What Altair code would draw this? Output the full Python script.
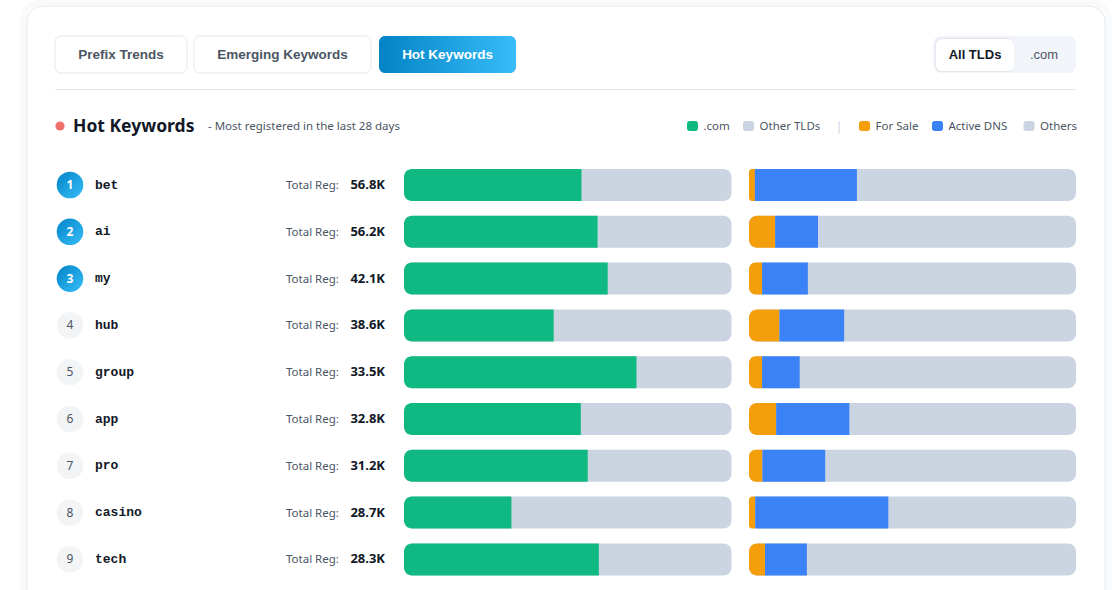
import altair as alt
import pandas as pd

# ---- data -----------------------------------------------------------------
keywords = ["bet", "ai", "my", "hub", "group", "app", "pro", "casino", "tech"]
total_reg_k = [56.8, 56.2, 42.1, 38.6, 33.5, 32.8, 31.2, 28.7, 28.3]
# share of registrations under .com (rest: other TLDs), percent
com_share = [54.2, 59.1, 62.2, 45.7, 71.0, 54.0, 56.1, 32.8, 59.5]
# usage split, percent (rest: others)
for_sale = [1.8, 8.0, 4.0, 9.3, 4.0, 8.3, 4.1, 1.9, 4.9]
active_dns = [31.2, 13.1, 14.0, 19.8, 11.5, 22.4, 19.2, 40.7, 12.8]

df = pd.DataFrame({
    "keyword": keywords,
    "rank": list(range(1, len(keywords) + 1)),
    "com": com_share,
    "sale": for_sale,
    "dns_end": [s + d for s, d in zip(for_sale, active_dns)],
    "total": [f"{v:.1f}K" for v in total_reg_k],
})

# ---- styling ---------------------------------------------------------------
SANS = "Noto Sans"
BTN = "Liberation Sans"
MONO = "Liberation Mono"
INK = "#111827"
MUTED = "#4b5563"
BORDER = "#e5e7eb"
GREEN = "#10b981"
TRACK = "#cbd5e1"
ORANGE = "#f59e0b"
BLUE = "#3b82f6"

blue_grad_h = alt.Gradient(
    gradient="linear", x1=0, y1=0, x2=1, y2=0,
    stops=[alt.GradientStop(color="#0383c6", offset=0),
           alt.GradientStop(color="#38bdf8", offset=1)])
blue_grad_d = alt.Gradient(
    gradient="linear", x1=0, y1=0, x2=1, y2=1,
    stops=[alt.GradientStop(color="#0284c7", offset=0),
           alt.GradientStop(color="#38bdf8", offset=1)])

one = alt.Data(values=[{"k": 0}])


def box(x0, x1, y0, y1, **style):
    return alt.Chart(one).mark_rect(**style).encode(
        x=alt.value(x0), x2=alt.value(x1), y=alt.value(y0), y2=alt.value(y1))


def label(x, y, text, **style):
    style.setdefault("baseline", "middle")
    return alt.Chart(one).mark_text(text=text, **style).encode(
        x=alt.value(x), y=alt.value(y))


# ---- page chrome -----------------------------------------------------------
chrome = [
    box(23, 1109, 2, 700, fill="#ffffff", stroke="#94a3b8", strokeOpacity=0.06,
        strokeWidth=6, cornerRadius=19),
    box(27, 1105, 6, 700, fill="#ffffff", stroke=BORDER, strokeWidth=1,
        cornerRadius=16),
    # tabs
    box(55, 187, 36, 73, fill="#ffffff", stroke=BORDER, cornerRadius=6),
    label(121, 55, "Prefix Trends", align="center", font=BTN, fontSize=13.5,
          fontWeight="bold", color=MUTED),
    box(194, 371, 36, 73, fill="#ffffff", stroke=BORDER, cornerRadius=6),
    label(282.5, 55, "Emerging Keywords", align="center", font=BTN,
          fontSize=13.5, fontWeight="bold", color=MUTED),
    box(379, 516, 36, 73, color=blue_grad_h, cornerRadius=6),
    label(447.5, 55, "Hot Keywords", align="center", font=BTN, fontSize=13.5,
          fontWeight="bold", color="#ffffff"),
    # TLD toggle
    box(933, 1076, 36, 73, fill="#f1f5f9", cornerRadius=8),
    box(935, 1014, 38, 72, fill="#000000", opacity=0.05, cornerRadius=6),
    box(936, 1014, 39, 71, fill="#ffffff", cornerRadius=6),
    label(975, 55, "All TLDs", align="center", font=BTN, fontSize=13,
          fontWeight="bold", color=INK),
    label(1044, 55, ".com", align="center", font=BTN, fontSize=13,
          color=MUTED),
    # divider
    box(55, 1076, 89, 90, fill=BORDER),
    # section title
    alt.Chart(one).mark_circle(size=85, color="#f07070", opacity=1).encode(
        x=alt.value(60), y=alt.value(126)),
    label(73, 126, "Hot Keywords", align="left", font=SANS, fontSize=17.5,
          fontWeight="bold", color=INK, dy=1),
    label(208, 126, "- Most registered in the last 28 days", align="left",
          font=SANS, fontSize=11.5, color=MUTED, dy=1),
]

# legend
legend_items = [
    (687, ".com", GREEN), (743, "Other TLDs", TRACK),
    (859, "For Sale", ORANGE), (932, "Active DNS", BLUE), (1023.5, "Others", TRACK),
]
for lx, text, col in legend_items:
    chrome.append(box(lx, lx + 11, 121, 131, fill=col, cornerRadius=2.5))
    chrome.append(label(lx + 16.5, 126, text, align="left", font=SANS,
                        fontSize=11.5, color=MUTED, dy=1))
chrome.append(label(839, 126, "|", align="center", font=SANS, fontSize=12,
                    color="#cbd5e1", dy=1))

# ---- rows ------------------------------------------------------------------
y_scale = alt.Scale(domain=[1, 9], range=[185, 559.4], zero=False, nice=False,
                    padding=0)
left_x = alt.Scale(domain=[0, 100], range=[404, 731.5], zero=False, nice=False,
                   padding=0)
right_x = alt.Scale(domain=[0, 100], range=[749, 1076], zero=False, nice=False,
                    padding=0)
Y = alt.Y("rank:Q", scale=y_scale, axis=None)

base = alt.Chart(df).transform_calculate(start="0", full="100")
top3 = base.transform_filter("datum.rank <= 3")
rest = base.transform_filter("datum.rank > 3")

rows = [
    top3.mark_circle(size=707, color=blue_grad_d, opacity=1).encode(
        x=alt.value(70), y=Y),
    rest.mark_circle(size=707, color="#f3f4f6", opacity=1).encode(
        x=alt.value(70), y=Y),
    top3.mark_text(font=SANS, fontSize=12, fontWeight="bold", color="#ffffff",
                   baseline="middle").encode(x=alt.value(70), y=Y, text="rank:N"),
    rest.mark_text(font=SANS, fontSize=12, color=MUTED,
                   baseline="middle").encode(x=alt.value(70), y=Y, text="rank:N"),
    base.mark_text(font=MONO, fontSize=13, fontWeight="bold", color="#111827",
                   align="left", baseline="middle", dy=-0.5).encode(
        x=alt.value(95), y=Y, text="keyword:N"),
    base.mark_text(text="Total Reg:", font=SANS, fontSize=11.5, color=MUTED,
                   align="left", baseline="middle", dy=1).encode(
        x=alt.value(286), y=Y),
    base.mark_text(font=SANS, fontSize=13, fontWeight="bold", color=INK,
                   align="right", baseline="middle").encode(
        x=alt.value(385), y=Y, text="total:N"),
]

# .com vs other TLDs
left_bars = alt.layer(
    base.mark_bar(size=32, cornerRadius=8, color=TRACK).encode(
        x=alt.X("start:Q", scale=left_x, axis=None), x2="full:Q", y=Y),
    base.mark_bar(size=32, cornerRadiusTopLeft=8, cornerRadiusBottomLeft=8,
                  color=GREEN).encode(
        x=alt.X("start:Q", scale=left_x, axis=None), x2="com:Q", y=Y),
)
# for sale / active DNS / others
right_bars = alt.layer(
    base.mark_bar(size=32, cornerRadius=8, color=TRACK).encode(
        x=alt.X("start:Q", scale=right_x, axis=None), x2="full:Q", y=Y),
    base.mark_bar(size=32, cornerRadiusTopLeft=8, cornerRadiusBottomLeft=8,
                  color=ORANGE).encode(
        x=alt.X("start:Q", scale=right_x, axis=None), x2="sale:Q", y=Y),
    base.mark_bar(size=32, color=BLUE).encode(
        x=alt.X("sale:Q", scale=right_x, axis=None), x2="dns_end:Q", y=Y),
)

chart = (
    alt.layer(*chrome, *rows, left_bars, right_bars)
    .resolve_scale(x="independent")
    .properties(width=1119, height=590, padding=0, background="#ffffff",
                autosize=alt.AutoSizeParams(type="none"))
    .configure_view(stroke=None)
)

chart.save("out.html", embed_options={"renderer": "svg", "actions": False})
